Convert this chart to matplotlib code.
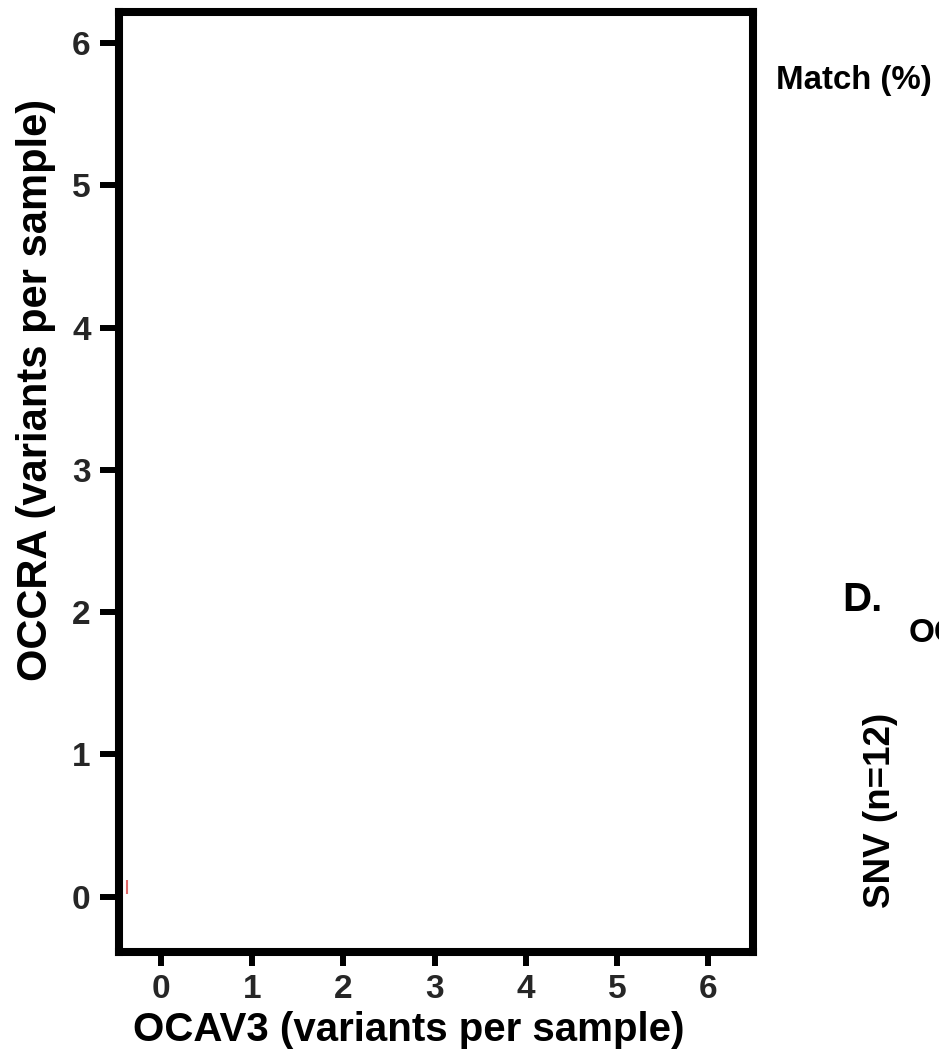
import matplotlib
matplotlib.use("Agg")
import matplotlib.pyplot as plt

W, H = 939, 1060
DPI = 100

# data
x_ticks = [0, 1, 2, 3, 4, 5, 6]
y_ticks = [0, 1, 2, 3, 4, 5, 6]
x_label = "OCAV3 (variants per sample)"
y_label = "OCCRA (variants per sample)"
point_x = [-0.37]
point_y = [0.07]

plt.rcParams['font.family'] = ['Liberation Sans', 'DejaVu Sans']
plt.rcParams['font.weight'] = 'bold'

fig = plt.figure(figsize=(W / DPI, H / DPI), dpi=DPI)
fig.patch.set_facecolor('white')

def px(x0, y0, x1, y1):
    return [x0 / W, 1 - y1 / H, (x1 - x0) / W, (y1 - y0) / H]

ax = fig.add_axes(px(119, 12, 753, 952))
ax.set_xlim(-0.46, 6.49)
ax.set_ylim(-0.39, 6.22)

ax.scatter(point_x, point_y, marker='|', s=90, color='#e06a6a', linewidths=1.5, zorder=3)

for s in ax.spines.values():
    s.set_linewidth(5.8)
    s.set_color('black')

ax.set_xticks(x_ticks)
ax.set_yticks(y_ticks)
ax.set_xticklabels([str(v) for v in x_ticks])
ax.set_yticklabels([str(v) for v in y_ticks])
ax.tick_params(axis='x', length=10, width=4.3, color='black', labelsize=24,
               labelcolor='#262626', pad=6)
ax.tick_params(axis='y', length=13.5, width=4.3, color='black', labelsize=24,
               labelcolor='#262626', pad=7)
for lab in ax.get_xticklabels() + ax.get_yticklabels():
    lab.set_fontweight('bold')

fig.text(409 / W, 1 - 1030 / H, x_label, ha='center', va='center',
         fontsize=29, fontweight='bold', color='black')
fig.text(36 / W, 1 - 390 / H, y_label, ha='center', va='center',
         rotation=90, fontsize=30, fontweight='bold', color='black')

fig.text(776 / W, 1 - 80 / H, "Match (%)", ha='left', va='center',
         fontsize=23.8, fontweight='bold', color='black')
fig.text(842 / W, 1 - 600 / H, "D.", ha='left', va='center',
         fontsize=29, fontweight='bold', color='black')
fig.text(909 / W, 1 - 634 / H, "OC", ha='left', va='center',
         fontsize=24, fontweight='bold', color='black')
fig.text(881 / W, 1 - 810 / H, "SNV (n=12)", ha='center', va='center',
         rotation=90, fontsize=26.5, fontweight='bold', color='black')

fig.savefig("out.png", dpi=DPI, facecolor='white')
